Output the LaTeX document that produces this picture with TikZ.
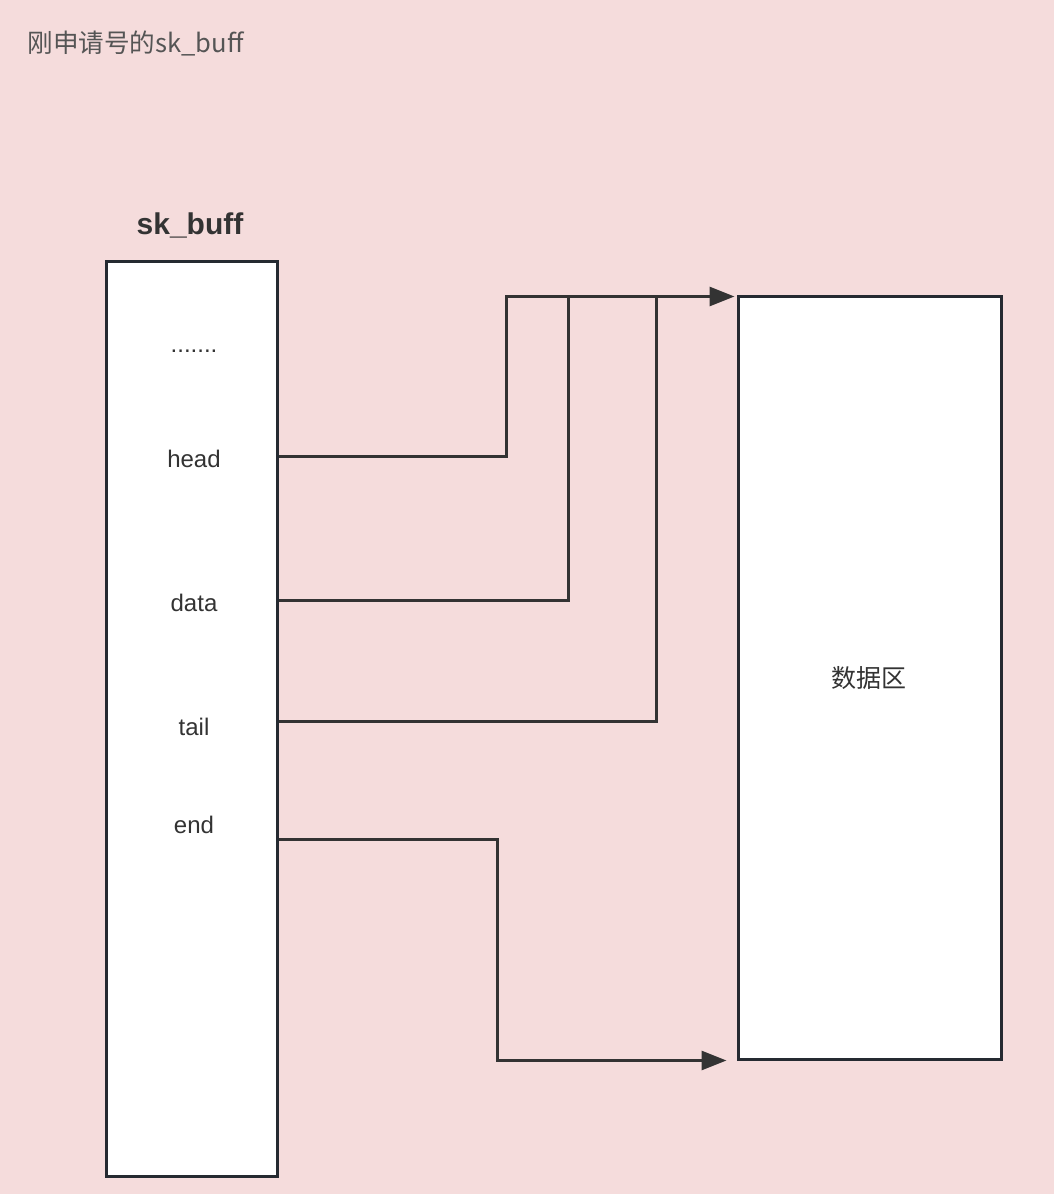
\documentclass[tikz,border=0pt]{standalone}
\usepackage{fontspec}
\setmainfont{Liberation Sans}
\newfontfamily\cjk{Noto Sans CJK SC}
\usepackage{xcolor}
\usetikzlibrary{arrows.meta,positioning,calc}
\definecolor{cBg}{HTML}{F5DCDC}
\definecolor{cInk}{HTML}{333333}
\definecolor{cEdge}{HTML}{252A31}
\definecolor{cGray}{HTML}{555555}
\tikzset{
  membox/.style={draw=cEdge,fill=white,line width=1.5pt,inner sep=0pt},
  fld/.style={font=\fontsize{12}{14}\selectfont,text=cInk,inner sep=1pt},
  arr/.style={-{Triangle[length=12.5pt,width=9.5pt]},line width=1.5pt,color=cInk},
  wire/.style={line width=1.5pt,color=cInk},
}
\begin{document}
\begin{tikzpicture}[x=0.5pt,y=-0.5pt]
  \fill[cBg] (0,0) rectangle (1054,1194);
  \useasboundingbox (0,0) rectangle (1054,1194);
  \node[anchor=west,text=cGray,font=\cjk\fontsize{12.8}{15}\selectfont,inner sep=0pt] (title) at (27,43) {刚申请号的sk\_buff};
  % sk_buff struct and data area
  \node[membox,minimum width=85.5pt,minimum height=457.5pt] (skb) at (191.5,718.5) {};
  \node[font=\bfseries\fontsize{15}{18}\selectfont,text=cInk] (skbname) at (190,225) {sk\_buff};
  \node[membox,minimum width=131.5pt,minimum height=381.5pt] (dbox) at (869.5,677.5) {};
  \node[fld,font=\cjk\fontsize{12.5}{15}\selectfont] (dlbl) at (869,678) {数据区};
  \node[fld] (dots) at (194,351) {.......};
  \node[fld] (head) at (194,459) {head};
  \node[fld] (data) at (194,603) {data};
  \node[fld] (tail) at (194,727) {tail};
  \node[fld] (end) at (194,825) {end};
  \coordinate (topin) at ($(dbox.north west)+(0,2)$);
  \draw[arr,shorten >=1pt] ($(skb.east |- head)+(0,-3)$) -| ($(topin)+(-230,0)$) -- (topin);
  \draw[wire] ($(skb.east |- data)+(0,-3)$) -| ($(topin)+(-168,0)$);
  \draw[wire] ($(skb.east |- tail)+(0,-6)$) -| ($(topin)+(-80,0)$);
  \draw[arr,shorten >=5pt] ($(skb.east |- end)+(0,14)$) -| ($(dbox.south west)+(-239,0)$) -- (dbox.south west);
\end{tikzpicture}
\end{document}
